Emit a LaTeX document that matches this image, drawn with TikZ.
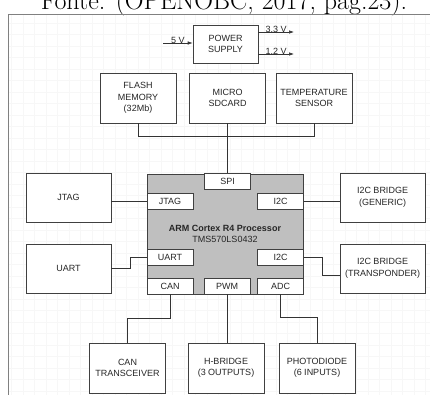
\documentclass[tikz,border=0pt]{standalone}
\usepackage{fontspec}
\newfontfamily\arialfont{Liberation Sans}
\usetikzlibrary{arrows.meta}
\tikzset{>={Latex[width=3.5pt,length=5pt]}}

\begin{document}
\begin{tikzpicture}[x=1pt,y=-1pt,
  blk/.style={draw=black!75,line width=0.6pt,fill=white,inner sep=1pt,align=center,
    text=black!85,font=\arialfont\fontsize{9}{11.5}\selectfont,
    minimum width=76pt,minimum height=50pt},
  side/.style={blk,minimum width=85pt,minimum height=49pt},
  port/.style={blk,minimum width=46pt,minimum height=16pt},
  wire/.style={black!80,line width=0.6pt},
  volt/.style={above=-1.5pt,inner sep=1pt,text=black!85,font=\arialfont\fontsize{9}{10}\selectfont}]

  \useasboundingbox (0,0) rectangle (430,394);

  % caption, cut at the top
  \node[anchor=base,font=\fontsize{26}{30}\selectfont] (caption) at (224,9.5)
    {Fonte: (OPENOBC, 2017, pág.23).};

  % frame and grid
  \draw[black!3,step=11.5pt] (8.5,14.5) grid (440,400);
  \draw[black!50,line width=0.8pt] (440,14.5) -- (8.5,14.5) -- (8.5,400);

  % power
  \node[blk,minimum width=65pt,minimum height=38pt] (psu) at (225.5,44) {POWER\\SUPPLY};
  \coordinate (in5) at (163,43);
  \coordinate (out33) at (294,32);
  \coordinate (out12) at (294,54);
  \draw[->,wire] (in5) -- node[volt]{5 V} (in5 -| psu.west); % 5V->PSU
  \draw[->,wire] (psu.east |- out33) -- node[volt]{3.3 V} (out33);
  \draw[->,wire] (psu.east |- out12) -- node[volt]{1.2 V} (out12);

  % SPI devices
  \node[blk] (flash) at (138,98) {FLASH\\MEMORY\\(32Mb)};
  \node[blk] (sdcard) at (227.5,98) {MICRO\\SDCARD};
  \node[blk] (temp) at (314,98) {TEMPERATURE\\SENSOR};

  % processor and its ports
  \node[blk,fill=black!25,minimum width=156pt,minimum height=120pt,
    font=\arialfont\fontsize{9}{11.5}\selectfont] (cpu) at (225,234)
    {\textbf{ARM Cortex R4 Processor}\\TMS570LS0432};
  \node[port] (spi) at (227.5,181.5) {SPI};
  \node[port] (jtagp) at (170,201) {JTAG};
  \node[port] (i2cpa) at (280.5,201) {I2C};
  \node[port] (uartp) at (170,257) {UART};
  \node[port] (i2cpb) at (280.5,257) {I2C};
  \node[port] (canp) at (170,286) {CAN};
  \node[port] (pwmp) at (227,286) {PWM};
  \node[port] (adcp) at (280.5,286) {ADC};

  % side devices
  \node[side] (jtag) at (68.5,197.5) {JTAG};
  \node[side] (uart) at (68.5,268.5) {UART};
  \node[side] (i2cgen) at (382.5,197.5) {I2C BRIDGE\\(GENERIC)};
  \node[side] (i2ctr) at (382.5,268.5) {I2C BRIDGE\\(TRANSPONDER)};

  % bottom devices
  \node[blk] (can) at (127.5,368) {CAN\\TRANSCEIVER};
  \node[blk] (hbridge) at (226,368) {H-BRIDGE\\(3 OUTPUTS)};
  \node[blk] (photo) at (317,368) {PHOTODIODE\\(6 INPUTS)};

  % SPI bus
  \draw[wire] (flash.south) -- ++(0,13) -| (temp.south);
  \draw[wire] (sdcard.south) -- (spi.north);

  \draw[wire] (jtag.east |- jtagp) -- (jtagp.west); % JTAG
  \draw[wire] (i2cpa.east) -- (i2cgen.west |- i2cpa); % I2C generic
  \draw[wire] (uart.east) -- ++(19,0) |- (uartp.west); % UART
  \draw[wire] (i2cpb.east) -- ++(18,0) |- ([yshift=-6.5pt]i2ctr.west); % I2C transponder

  \draw[wire] (canp.south) -- ++(0,24) -| (can.north); % CAN
  \draw[wire] (pwmp.south) -- (pwmp.south |- hbridge.north); % PWM
  \draw[wire] (adcp.south) -- ++(0,23) -| (photo.north); % ADC

\end{tikzpicture}
\end{document}
